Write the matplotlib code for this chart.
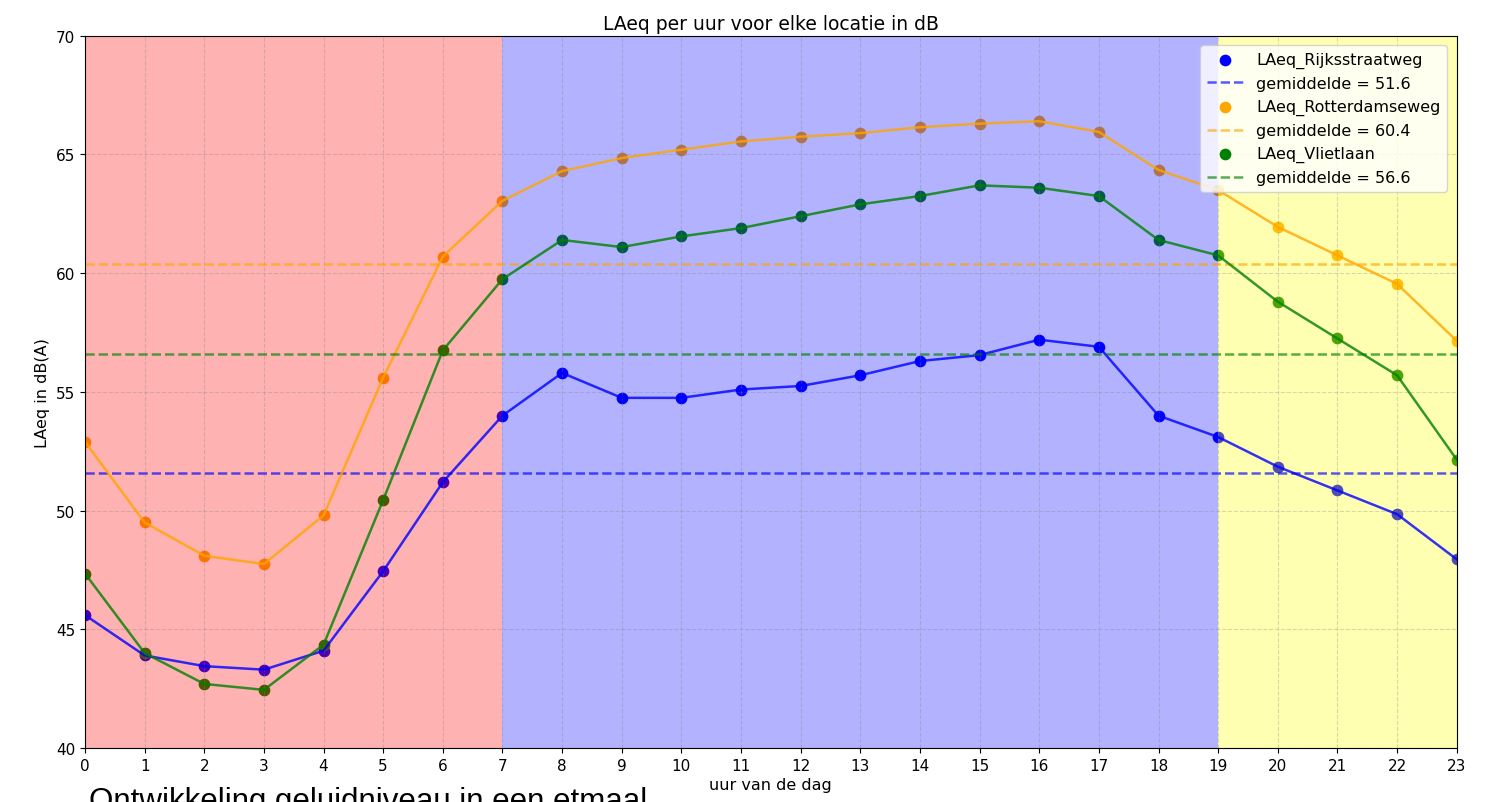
import numpy as np
import matplotlib
matplotlib.use('Agg')
import matplotlib.pyplot as plt

# uur van de dag
uren = list(range(24))

rijksstraatweg = [45.6, 43.9, 43.45, 43.3, 44.1, 47.45, 51.2, 54.0, 55.8, 54.75, 54.75, 55.1,
                  55.25, 55.7, 56.3, 56.55, 57.2, 56.9, 54.0, 53.1, 51.85, 50.85, 49.85, 47.95]
rotterdamseweg = [52.9, 49.5, 48.1, 47.75, 49.8, 55.6, 60.7, 63.05, 64.3, 64.85, 65.2, 65.55,
                  65.75, 65.9, 66.15, 66.3, 66.4, 65.95, 64.35, 63.5, 61.95, 60.75, 59.55, 57.15]
vlietlaan = [47.35, 44.0, 42.7, 42.45, 44.35, 50.45, 56.75, 59.75, 61.4, 61.1, 61.55, 61.9,
             62.4, 62.9, 63.25, 63.7, 63.6, 63.25, 61.4, 60.75, 58.8, 57.25, 55.7, 52.15]

locaties = ['LAeq_Rijksstraatweg', 'LAeq_Rotterdamseweg', 'LAeq_Vlietlaan']
gemiddelden = [51.6, 60.4, 56.6]
kleuren = ['blue', 'orange', 'green']

# dagdelen: nacht, dag, avond
dagdelen = [(0, 7, 'red'), (7, 19, 'blue'), (19, 23, 'yellow')]

fig = plt.figure(figsize=(14.91, 8.03), dpi=100)
ax = fig.add_axes([0.057, 0.0672, 0.92, 0.887])

for reeks, naam, gem, kl in zip([rijksstraatweg, rotterdamseweg, vlietlaan], locaties, gemiddelden, kleuren):
    ax.scatter(uren, reeks, color=kl, s=55, label=naam, zorder=1)
    ax.axhline(gem, color=kl, linestyle='--', linewidth=1.8, alpha=0.65, label='gemiddelde = %s' % gem)
    ax.plot(uren, reeks, color=kl, linewidth=1.8, alpha=0.8)

for start, eind, kl in dagdelen:
    ax.axvspan(start, eind, color=kl, alpha=0.3, zorder=1, linewidth=0)

ax.set_xlim(0, 23)
ax.set_ylim(40, 70)
ax.set_xticks(uren)
ax.set_yticks(range(40, 71, 5))
ax.tick_params(labelsize=11)
ax.grid(True, linestyle='--', color='gray', alpha=0.3)
ax.set_xlabel('uur van de dag', fontsize=11.5, labelpad=3)
ax.set_ylabel('LAeq in dB(A)', fontsize=11.5)
ax.set_title('LAeq per uur voor elke locatie in dB', fontsize=13.5, pad=5)
ax.legend(loc='upper right', fontsize=11.5, handlelength=2.3, borderaxespad=0.6)

fig.text(0.06, -0.009, 'Ontwikkeling geluidniveau in een etmaal', fontsize=22.5,
         family='Liberation Sans', va='baseline')

fig.savefig('out.png', dpi=100)
